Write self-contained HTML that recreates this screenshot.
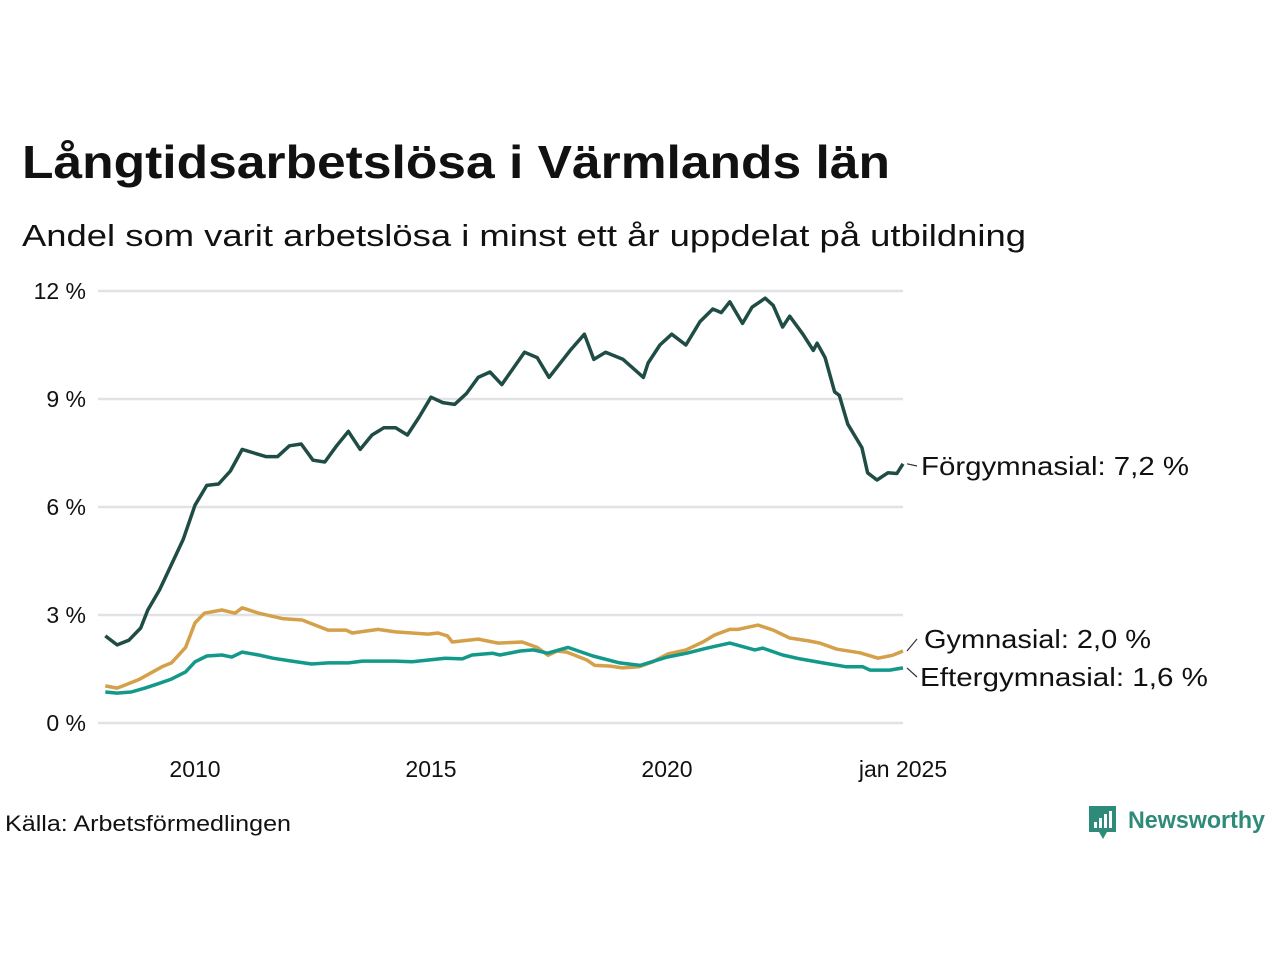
<!DOCTYPE html>
<html><head><meta charset="utf-8"><style>
body{margin:0;background:#fff;width:1280px;height:960px;overflow:hidden;font-family:"Liberation Sans","DejaVu Sans",sans-serif}
svg{position:absolute;left:0;top:0}
</style></head><body>
<svg width="1280" height="960">
<text x="22" y="178" font-size="46" font-weight="bold" fill="#111" textLength="868" lengthAdjust="spacingAndGlyphs">Långtidsarbetslösa i Värmlands län</text>
<text x="22" y="246" font-size="31" fill="#111" textLength="1004" lengthAdjust="spacingAndGlyphs">Andel som varit arbetslösa i minst ett år uppdelat på utbildning</text>
<g id="grid"></g><g id="lines"></g><g id="labels"></g>
<text x="5" y="831" font-size="22" fill="#111" textLength="286" lengthAdjust="spacingAndGlyphs">Källa: Arbetsförmedlingen</text>
<g>
<path d="M1089 806h27v26h-9l-4 7-4-7h-10z" fill="#2e8b7a"/>
<rect x="1094" y="822" width="3" height="6" fill="#fff"/><rect x="1099" y="818" width="3" height="10" fill="#fff"/><rect x="1104" y="814" width="3" height="14" fill="#fff"/><rect x="1109" y="811" width="3" height="17" fill="#fff"/>
<text x="1128" y="828" font-size="24" font-weight="bold" fill="#2e8b7a" textLength="137" lengthAdjust="spacingAndGlyphs">Newsworthy</text>
</g>
</svg>
<script>
const yTicks=[0,3,6,9,12];
const xTicks=[2010,2015,2020,2025];
const xTickLabels=["2010","2015","2020","jan 2025"];
const forgYears=[2008.1,2008.35,2008.6,2008.85,2009.0,2009.25,2009.5,2009.75,2010.0,2010.25,2010.5,2010.75,2011.0,2011.25,2011.5,2011.75,2012.0,2012.25,2012.5,2012.75,2013.0,2013.25,2013.5,2013.75,2014.0,2014.25,2014.5,2014.75,2015.0,2015.25,2015.5,2015.75,2016.0,2016.25,2016.5,2016.98,2017.25,2017.5,2017.95,2018.25,2018.45,2018.7,2019.07,2019.5,2019.6,2019.85,2020.1,2020.4,2020.7,2020.97,2021.15,2021.33,2021.6,2021.8,2022.08,2022.25,2022.45,2022.6,2022.88,2023.1,2023.18,2023.35,2023.55,2023.65,2023.83,2024.13,2024.25,2024.45,2024.68,2024.87,2025.0];
const forgVals=[2.42,2.17,2.3,2.64,3.14,3.7,4.4,5.1,6.05,6.6,6.64,7.0,7.6,7.5,7.4,7.4,7.7,7.75,7.3,7.25,7.7,8.1,7.6,8.0,8.2,8.2,8.0,8.5,9.05,8.9,8.85,9.15,9.6,9.75,9.4,10.3,10.15,9.6,10.35,10.8,10.1,10.3,10.1,9.6,10.0,10.5,10.8,10.5,11.15,11.5,11.4,11.7,11.1,11.55,11.8,11.6,11.0,11.3,10.8,10.35,10.55,10.15,9.2,9.1,8.3,7.65,6.95,6.75,6.95,6.93,7.2];
const gymYears=[2008.1,2008.35,2008.8,2009.3,2009.5,2009.8,2010.0,2010.2,2010.57,2010.85,2011.0,2011.35,2011.85,2012.27,2012.82,2013.2,2013.33,2013.88,2014.25,2014.94,2015.15,2015.35,2015.45,2016.0,2016.42,2016.93,2017.25,2017.48,2017.67,2017.88,2018.3,2018.47,2018.8,2019.05,2019.4,2019.7,2020.02,2020.4,2020.76,2021.0,2021.33,2021.5,2021.93,2022.25,2022.6,2023.0,2023.24,2023.6,2024.09,2024.47,2024.78,2025.0];
const gymVals=[1.03,0.97,1.2,1.56,1.67,2.1,2.78,3.05,3.14,3.05,3.2,3.05,2.9,2.86,2.58,2.58,2.5,2.6,2.53,2.47,2.5,2.42,2.25,2.33,2.22,2.25,2.1,1.88,2.0,1.97,1.75,1.6,1.58,1.53,1.56,1.7,1.92,2.03,2.25,2.44,2.6,2.6,2.72,2.58,2.36,2.28,2.22,2.05,1.95,1.8,1.88,2.0];
const eftYears=[2008.1,2008.35,2008.65,2008.94,2009.2,2009.5,2009.8,2010.0,2010.25,2010.57,2010.78,2011.0,2011.35,2011.65,2012.05,2012.47,2012.82,2013.25,2013.55,2014.24,2014.6,2015.3,2015.66,2015.87,2016.3,2016.46,2016.89,2017.17,2017.47,2017.9,2018.43,2019.0,2019.43,2020.0,2020.42,2020.85,2021.33,2021.86,2022.03,2022.45,2022.82,2023.3,2023.8,2024.15,2024.3,2024.72,2025.0];
const eftVals=[0.86,0.83,0.86,0.97,1.08,1.22,1.42,1.7,1.86,1.89,1.83,1.97,1.89,1.8,1.72,1.64,1.67,1.67,1.72,1.72,1.7,1.8,1.78,1.89,1.94,1.89,2.0,2.03,1.94,2.1,1.86,1.67,1.6,1.83,1.94,2.08,2.22,2.03,2.08,1.89,1.78,1.67,1.56,1.56,1.47,1.47,1.53];
const NS="http://www.w3.org/2000/svg";
const x=t=>195+(t-2010)*47.2;
const y=v=>723-v*36;
function mk(tag,attrs,parent){const e=document.createElementNS(NS,tag);for(const k in attrs)e.setAttribute(k,attrs[k]);document.getElementById(parent).appendChild(e);return e;}
yTicks.forEach(v=>{
 const l=mk('line',{x1:98,x2:903,y1:y(v),y2:y(v),stroke:'#e2e2e6','stroke-width':2.5},'grid');
 
 
 const t=mk('text',{x:86,y:y(v)+8,'text-anchor':'end','font-size':23,fill:'#111'},'grid');
 t.textContent=v+' %';
 
 
});
xTicks.forEach((v,i)=>{
 const t=mk('text',{x:x(v),y:777,'text-anchor':'middle','font-size':23,fill:'#111'},'grid');
 t.textContent=xTickLabels[i];
 
 
});
function series(ys,vs,color,name){
 const d=ys.map((t,i)=>(i?'L':'M')+x(t).toFixed(1)+' '+y(vs[i]).toFixed(1)).join('');
 const p=mk('path',{d:d,fill:'none',stroke:color,'stroke-width':3.5,'stroke-linejoin':'round'},'lines');
 
 
}
series(gymYears,gymVals,'#d4a04a','line-gymnasial');
series(eftYears,eftVals,'#13998a','line-eftergymnasial');
series(forgYears,forgVals,'#1f4d45','line-forgymnasial');
function lab(txt,vy,ly,lx,len,name){
 const l=mk('line',{x1:907,y1:y(vy),x2:917,y2:ly,stroke:'#333','stroke-width':1.2},'labels');
 
 
 const t=mk('text',{x:lx,y:ly+9,'font-size':26,fill:'#111',textLength:len,lengthAdjust:'spacingAndGlyphs'},'labels');
 t.textContent=txt;
 
 
}
lab('Förgymnasial: '+forgVals[forgVals.length-1].toFixed(1).replace('.',',')+' %',forgVals[forgVals.length-1],466,921,268,'label-forgymnasial');
lab('Gymnasial: '+gymVals[gymVals.length-1].toFixed(1).replace('.',',')+' %',gymVals[gymVals.length-1],639,924,227,'label-gymnasial');
lab('Eftergymnasial: 1,6 %',eftVals[eftVals.length-1],677,920,288,'label-eftergymnasial');
</script>
</body></html>
